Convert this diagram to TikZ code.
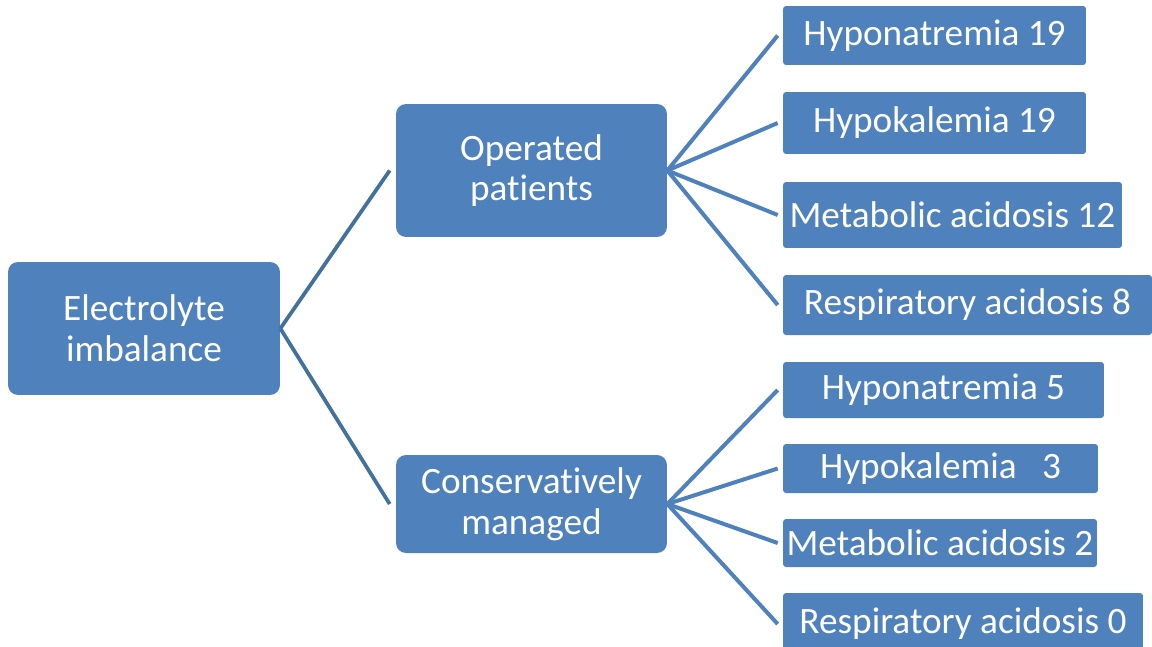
\documentclass[tikz,border=0pt]{standalone}
\usepackage{fontspec}
\setmainfont{Carlito}[Ligatures=NoCommon]
\definecolor{boxblue}{HTML}{4F81BD}
\definecolor{linkdark}{HTML}{41719C}
\begin{document}
\begin{tikzpicture}[x=0.02cm, y=-0.02cm,
  box/.style={rectangle, fill=boxblue, text=white, inner sep=0pt, align=center,
    font=\fontsize{21.2}{23.2}\selectfont},
  mainbox/.style={box, rounded corners=0.2cm},
  leafbox/.style={box, rounded corners=0.06cm},
  trunk/.style={draw=linkdark, line width=0.075cm},
  twig/.style={draw=boxblue, line width=0.08cm}]
  \useasboundingbox (0,0) rectangle (1152,646);
  % Nodes
  \node (root) [mainbox, minimum width=5.44cm, minimum height=2.66cm] at (144,328.5) {Electrolyte\\imbalance};
  \node (op) [mainbox, minimum width=5.42cm, minimum height=2.66cm] at (531.5,170.5) {Operated\\patients};
  \node (cons) [mainbox, minimum width=5.42cm, minimum height=1.96cm] at (531.5,504) {Conservatively\\managed};
  % Leaves, operated
  \node (opa) [leafbox, minimum width=6.06cm, minimum height=1.18cm] at (934.5,35.5) {Hyponatremia 19};
  \node (opb) [leafbox, minimum width=6.06cm, minimum height=1.24cm] at (934.5,123) {Hypokalemia 19};
  \node (opc) [leafbox, minimum width=6.78cm, minimum height=1.32cm] at (952.5,215) {Metabolic acidosis 12};
  \node (opd) [leafbox, minimum width=7.38cm, minimum height=1.2cm] at (967.5,305) {Respiratory acidosis 8};
  % Leaves, conservative
  \node (cma) [leafbox, minimum width=6.42cm, minimum height=1.12cm] at (943.5,390) {Hyponatremia 5};
  \node (cmb) [leafbox, minimum width=6.3cm, minimum height=0.98cm] at (940.5,468.5) {Hypokalemia \ \ 3};
  \node (cmc) [leafbox, minimum width=6.28cm, minimum height=0.96cm] at (940,543) {Metabolic acidosis 2};
  \node (cmd) [leafbox, minimum width=7.2cm, minimum height=1.24cm] at (963,624) {Respiratory acidosis 0};
  % Links
  \draw[trunk] (root.east) -- ([xshift=-0.12cm]op.west);
  \draw[trunk] (root.east) -- ([xshift=-0.12cm]cons.west);
  \foreach \leaf in {opa,opb,opc,opd}
    \draw[twig] (op.east) -- ([xshift=-0.1cm]\leaf.west);
  \foreach \leaf in {cma,cmb,cmc,cmd}
    \draw[twig] (cons.east) -- ([xshift=-0.1cm]\leaf.west);
\end{tikzpicture}
\end{document}
